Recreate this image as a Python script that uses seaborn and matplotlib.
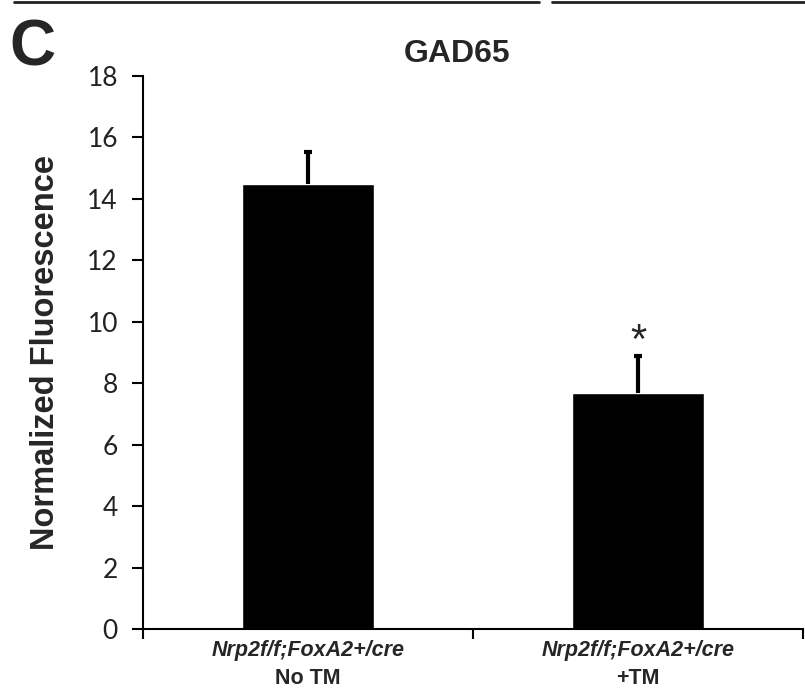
import matplotlib
matplotlib.use("Agg")
import matplotlib.pyplot as plt
import seaborn as sns
import pandas as pd
from matplotlib.lines import Line2D
from matplotlib.transforms import blended_transform_factory

# ---- data ----
genotypes = ["Nrp2f/f;FoxA2+/cre", "Nrp2f/f;FoxA2+/cre"]
treatments = ["No TM", "+TM"]
groups = ["No TM", "+TM"]
means = [14.48, 7.68]
sem = [1.05, 1.20]
yticks = [0, 2, 4, 6, 8, 10, 12, 14, 16, 18]
title = "GAD65"
ylabel = "Normalized Fluorescence"
panel = "C"
star_label = "*"
star_value = 9.0

df = pd.DataFrame({"group": groups, "value": means})

sns.set_theme(style="white")
plt.rcParams["font.family"] = ["Liberation Sans", "DejaVu Sans"]

fig = plt.figure(figsize=(8.05, 6.89), dpi=100)
ax = fig.add_axes([0.1776, 0.0871, 0.8199, 0.8026])

sns.barplot(data=df, x="group", y="value", color="black", width=0.4,
            errorbar=None, saturation=1, ax=ax)
eb = ax.errorbar(range(len(means)), means, yerr=[[0] * len(sem), sem],
                 fmt="none", ecolor="black", elinewidth=3, capsize=3,
                 capthick=3)
# hide the lower caps (zero-length lower error)
eb.lines[1][0].set_visible(False)

ax.set_xlim(-0.5, 1.5)
ax.set_ylim(0, 18)
ax.set_yticks(yticks)
ax.set_yticklabels([str(t) for t in yticks], fontsize=19,
                   fontfamily=["Lato", "DejaVu Sans"], color="#222222")

# x tick labels: italic genotype line + bold treatment line
ax.set_xticks(range(len(groups)))
ax.set_xticklabels([])
ax.set_xticks([-0.5, 0.5, 1.5], minor=True)
ax.tick_params(axis="x", which="major", length=0)
ax.tick_params(axis="x", which="minor", length=7, width=1.5, color="black",
               direction="out", bottom=True)
ax.tick_params(axis="y", length=8, width=1.5, color="black", direction="out",
               left=True, pad=10)
trans = blended_transform_factory(ax.transData, ax.transAxes)
for i, (g, t) in enumerate(zip(genotypes, treatments)):
    ax.text(i, -0.038, g, transform=trans, ha="center", va="center",
            fontsize=15.5, fontweight="bold", fontstyle="italic")
    ax.text(i, -0.09, t, transform=trans, ha="center", va="center",
            fontsize=15.5, fontweight="bold")

ax.set_xlabel("")
ax.set_ylabel(ylabel, fontsize=23.5, fontweight="bold")
ax.yaxis.set_label_coords(-0.124, 0.5)

for s in ["top", "right"]:
    ax.spines[s].set_visible(False)
for s in ["left", "bottom"]:
    ax.spines[s].set_color("black")
    ax.spines[s].set_linewidth(1.5)

ax.text(1, star_value, star_label, ha="center", va="baseline", fontsize=30,
        fontfamily=["Liberation Sans", "DejaVu Sans"])

fig.text(0.568, 0.922, title, ha="center", va="center", fontsize=23,
         fontweight="bold")
fig.text(0.012, 0.929, panel, ha="left", va="center", fontsize=46,
         fontweight="bold")

# frame remnants of the panel above
y_top = 1 - 1.5 / 689
fig.add_artist(Line2D([14 / 805, 539 / 805], [y_top, y_top], color="#222222",
                      lw=2, transform=fig.transFigure))
fig.add_artist(Line2D([552 / 805, 1.0], [y_top, y_top], color="#222222",
                      lw=2, transform=fig.transFigure))

fig.savefig("out.png", dpi=100)
